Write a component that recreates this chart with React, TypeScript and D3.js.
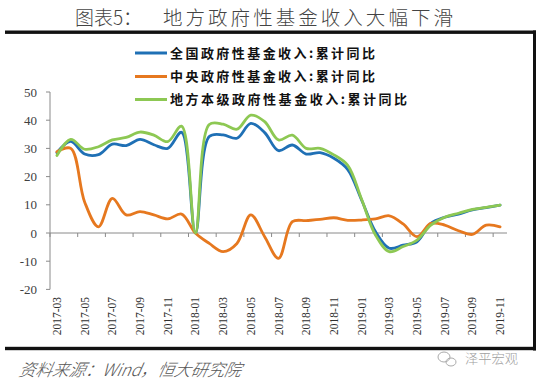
import React from "react";
import * as d3 from "d3";

const categories = [
  "2017-03", "2017-04", "2017-05", "2017-06", "2017-07", "2017-08", "2017-09", "2017-10", "2017-11", "2017-12",
  "2018-01", "2018-02", "2018-03", "2018-04", "2018-05", "2018-06", "2018-07", "2018-08", "2018-09", "2018-10",
  "2018-11", "2018-12", "2019-01", "2019-02", "2019-03", "2019-04", "2019-05", "2019-06", "2019-07", "2019-08",
  "2019-09", "2019-10", "2019-11",
];

const nationalValues = [
  28.5, 32.5, 28, 27.8, 31.5, 31, 33.2, 31.3, 30, 35.7,
  0, 34.2, 34.8, 33.6, 38.9, 35.6, 29.2, 31.2, 28, 28.5,
  26.5, 22.5, 11.7, 0.5, -5.4, -4.3, -3.1, 3.4, 5.6, 6.7,
  8.2, 9.0, 9.9,
];

const centralValues = [
  28.8, 30, 11, 2.2, 12.3, 6.4, 7.6, 6.4, 5, 6.7,
  0, -3.7, -6.6, -3.7, 6.4, -1.3, -9, 4, 4.4, 4.8,
  5.4, 4.5, 4.6, 5.0, 6.1, 3.2, -1.3, 3.4, 2.8, 0.8,
  -0.5, 2.8, 2.2,
];

const localValues = [
  27.5, 33.2, 29.7, 30.6, 33, 33.9, 35.8, 34.7, 32.4, 37.9,
  0, 38.5, 38.6, 36.8, 41.8, 39.5, 33, 34.7, 30, 30,
  27.7, 24, 12, -0.7, -6.6, -4.8, -2.5, 2.8, 5.6, 7,
  8.4, 9.1, 9.9,
];

const yTicks = [-20, -10, 0, 10, 20, 30, 40, 50];

const seriesNames = [
  "全国政府性基金收入:累计同比",
  "中央政府性基金收入:累计同比",
  "地方本级政府性基金收入:累计同比",
];

const titleLead = "图表5：";
const titleMain = "地方政府性基金收入大幅下滑";
const sourceText = "资料来源：Wind，恒大研究院";
const watermarkText = "泽平宏观";

const BLUE = "#1F70B5";
const ORANGE = "#E6781F";
const GREEN = "#8DC853";
const AXIS = "#8a8a8a";

export default function App() {
  const W = 536;
  const H = 382;
  const x = d3.scaleBand<string>().domain(categories).range([50, 507]).paddingInner(0).paddingOuter(0);
  const y = d3.scaleLinear().domain([-20, 50]).range([289.4, 92]);
  const cx = (c: string) => (x(c) as number) + x.bandwidth() / 2;

  const lineGen = d3
    .line<number>()
    .x((_, i) => cx(categories[i]))
    .y((d) => y(d))
    .curve(d3.curveCatmullRom.alpha(0.5));

  const series = [
    { name: seriesNames[0], values: nationalValues, color: BLUE },
    { name: seriesNames[1], values: centralValues, color: ORANGE },
    { name: seriesNames[2], values: localValues, color: GREEN },
  ];

  const legendWidths = [205, 205, 237];
  const legendY = [53, 76.5, 99.5];

  const serif = "'Liberation Serif', 'Times New Roman', serif";
  const cjk = "'Noto Sans CJK SC', sans-serif";

  return (
    <svg
      width={W}
      height={H}
      viewBox={`0 0 ${W} ${H}`}
      style={{ position: "absolute", left: 0, top: 0, background: "#fff" }}
    >
      <rect x={0} y={0} width={W} height={H} fill="#fff" />

      {/* Title */}
      <text x={75} y={25} fontFamily={cjk} fontWeight={300} fontSize={19.5} fill="#444" textLength={67} lengthAdjust="spacingAndGlyphs">
        {titleLead}
      </text>
      <text x={163} y={25} fontFamily={cjk} fontWeight={300} fontSize={19.5} fill="#444" textLength={290} lengthAdjust="spacing">
        {titleMain}
      </text>
      <rect x={5} y={30.5} width={531} height={3.4} fill="#111" />
      <rect x={533} y={30.5} width={3} height={320} fill="#111" />
      <rect x={5} y={346.8} width={531} height={3.4} fill="#111" />

      {/* Legend */}
      {series.map((s, i) => (
        <g key={s.name}>
          <line x1={135} x2={167} y1={legendY[i]} y2={legendY[i]} stroke={s.color} strokeWidth={3} />
          <text
            x={170}
            y={legendY[i] + 4.8}
            fontFamily={cjk}
            fontWeight={700}
            fontSize={13}
            fill="#111"
            textLength={legendWidths[i]}
            lengthAdjust="spacing"
          >
            {s.name}
          </text>
        </g>
      ))}

      {/* Y axis */}
      <line x1={50} x2={50} y1={y(50)} y2={y(-20)} stroke={AXIS} strokeWidth={1} />
      {yTicks.map((t) => (
        <g key={t}>
          <line x1={46} x2={50} y1={y(t)} y2={y(t)} stroke={AXIS} strokeWidth={1} />
          <text x={37} y={y(t)} dy="0.35em" textAnchor="end" fontFamily={serif} fontSize={13} fill="#404040">
            {t}
          </text>
        </g>
      ))}

      {/* X axis */}
      <line x1={50} x2={507} y1={y(0)} y2={y(0)} stroke={AXIS} strokeWidth={1} />
      {categories.map((c, i) =>
        i % 2 === 0 ? (
          <g key={c}>
            <line x1={x(c) as number} x2={x(c) as number} y1={y(0)} y2={y(0) + 4} stroke={AXIS} strokeWidth={1} />
            <text
              transform={`translate(${cx(c)},297) rotate(-90)`}
              dy="0.35em"
              textAnchor="end"
              fontFamily={serif}
              fontSize={11.5}
              fill="#303030"
            >
              {c}
            </text>
          </g>
        ) : null
      )}

      {/* Lines */}
      {series.map((s) => (
        <path
          key={s.name}
          d={lineGen(s.values) || ""}
          fill="none"
          stroke={s.color}
          strokeWidth={2.8}
          strokeLinejoin="round"
          strokeLinecap="round"
        />
      ))}

      {/* Source */}
      <text
        x={20}
        y={376}
        fontFamily={cjk}
        fontWeight={300}
        fontStyle="italic"
        fontSize={17}
        fill="#555"
        textLength={222}
        lengthAdjust="spacingAndGlyphs"
        transform="skewX(-12) translate(78,0)"
      >
        {sourceText}
      </text>

      {/* Watermark */}
      <g stroke="#aaa" strokeWidth={1} fill="none">
        <ellipse cx={444} cy={357} rx={6} ry={5} />
        <ellipse cx={451} cy={362} rx={5} ry={4} />
      </g>
      <text x={465} y={363} fontFamily={cjk} fontWeight={300} fontSize={13} fill="#a0a0a0" textLength={53} lengthAdjust="spacingAndGlyphs">
        {watermarkText}
      </text>
    </svg>
  );
}
